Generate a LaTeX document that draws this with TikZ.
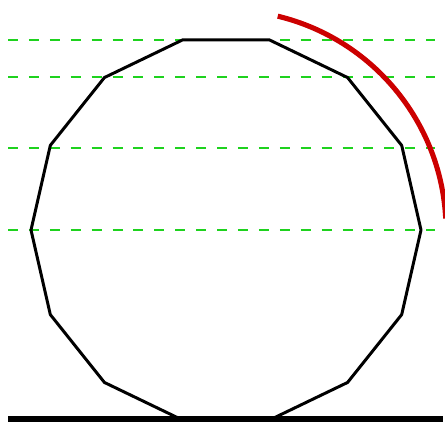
\documentclass[tikz,border=0pt]{standalone}
\usepackage{tikz}
\usetikzlibrary{calc}

\begin{document}
\begin{tikzpicture}[
  x=0.02cm, y=0.02cm,
  polygon/.style={draw=black, line width=1.7pt, line join=round},
  ground/.style={draw=black, line width=2.9pt},
  level/.style={draw={rgb,255:red,30;green,210;blue,30}, line width=0.04cm, dash pattern=on 5.7pt off 6.2pt},
  roll/.style={draw=red!80!black, line width=2.9pt}
]

%% Frame
\clip (0,0) rectangle (445,423);
\useasboundingbox (0,0) rectangle (445,423);

%% Center and vertices of the 14-gon
\coordinate (c) at (226,193);
\foreach \i in {0,...,13} {
  \coordinate (v\i) at ($(c)+({90-180/14+\i*360/14}:195)$);
}

%% Level lines (through vertex heights)
\foreach \y in {383,346,275,193} {
  \draw[level] (8,\y) -- (435,\y);
}

%% Polygon
\draw[polygon] (v0) \foreach \i in {1,...,13} { -- (v\i) } -- cycle;

%% Ground
\draw[ground] (8,4) -- (443,4);

%% Rolling arc
\draw[roll] ($(c)+(76.4:220)$) arc[start angle=76.4, end angle=3, radius=220];

\end{tikzpicture}
\end{document}
